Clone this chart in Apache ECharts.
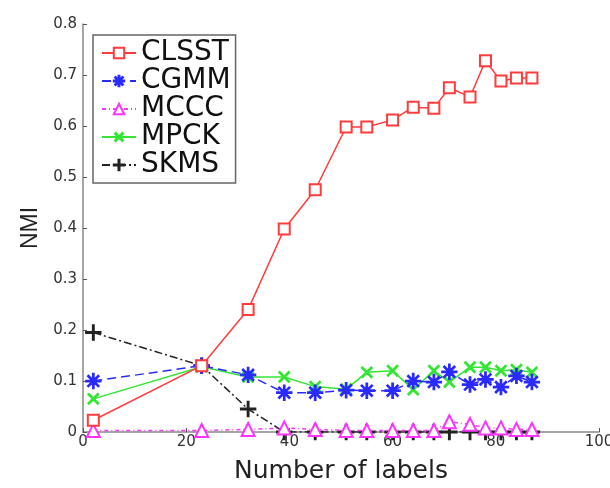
<!DOCTYPE html>
<html>
<head>
<meta charset="utf-8">
<script src="https://cdn.jsdelivr.net/npm/echarts@6/dist/echarts.min.js"></script>
<style>html,body{margin:0;padding:0;background:#fff}#c{width:610px;height:488px}</style>
</head>
<body>
<div id="c"></div>
<script>
const xValues = [2, 23, 32, 39, 45, 51, 55, 60, 64, 68, 71, 75, 78, 81, 84, 87];
const clsst = [0.023, 0.13, 0.24, 0.398, 0.475, 0.598, 0.598, 0.612, 0.637, 0.635, 0.675, 0.657, 0.728, 0.688, 0.694, 0.694];
const cgmm  = [0.100, 0.13, 0.112, 0.077, 0.077, 0.082, 0.081, 0.081, 0.100, 0.098, 0.118, 0.093, 0.103, 0.088, 0.110, 0.098];
const mccc  = [0.003, 0.003, 0.005, 0.008, 0.005, 0.003, 0.003, 0.003, 0.003, 0.003, 0.020, 0.015, 0.008, 0.008, 0.005, 0.005];
const mpck  = [0.065, 0.128, 0.108, 0.108, 0.089, 0.084, 0.117, 0.120, 0.083, 0.120, 0.098, 0.127, 0.127, 0.120, 0.122, 0.117];
const skms  = [0.195, 0.13, 0.045, 0, 0, 0, 0, 0, 0, 0, 0, 0, 0, 0, 0, 0];
const seriesNames = ['CLSST', 'CGMM', 'MCCC', 'MPCK', 'SKMS'];
const xTicks = {min: 0, max: 100, interval: 20};
const yTicks = {min: 0, max: 0.8, interval: 0.1};

const plusPath = 'path://M-1,-10 L1,-10 L1,-1 L10,-1 L10,1 L1,1 L1,10 L-1,10 L-1,1 L-10,1 L-10,-1 L-1,-1 Z';
const starPath = 'path://M-0.9,-10 L0.9,-10 L0.9,10 L-0.9,10 Z M-10,-0.9 L10,-0.9 L10,0.9 L-10,0.9 Z M-7.7,-6.5 L-6.5,-7.7 L7.7,6.5 L6.5,7.7 Z M6.5,-7.7 L7.7,-6.5 L-6.5,7.7 L-7.7,6.5 Z';

function zip(ys){ return xValues.map((x,i)=>[x, ys[i]]); }

const styles = [
  {data: clsst, color: '#ff3b3b', symbol: 'emptyRect', size: 11, type: 'solid', rot: 0},
  {data: cgmm,  color: '#2a2aff', symbol: starPath, size: 15, type: [9,5], rot: 0},
  {data: mccc,  color: '#ff33ff', symbol: 'emptyTriangle', size: 13, type: [4,3,1,3], rot: 0},
  {data: mpck,  color: '#33e633', symbol: plusPath, size: 14, type: 'solid', rot: 45},
  {data: skms,  color: '#222222', symbol: plusPath, size: 15, type: [8,3,2,3], rot: 0}
];

const FONT = 'DejaVu Sans';
const chart = echarts.init(document.getElementById('c'), null, {renderer: 'canvas'});
chart.setOption({
  animation: false,
  backgroundColor: '#fff',
  textStyle: {fontFamily: FONT},
  grid: {left: 83, right: 11, top: 24, bottom: 56, containLabel: false, outerBoundsMode: 'none'},
  legend: {
    orient: 'vertical', left: 93, top: 35,
    padding: [4, 5, 4, 8],
    borderColor: '#666', borderWidth: 1.5,
    itemWidth: 34, itemHeight: 13, itemGap: 0,
    textStyle: {fontSize: 28, color: '#111', fontFamily: FONT},
    data: seriesNames
  },
  xAxis: {
    type: 'value', min: xTicks.min, max: xTicks.max, interval: xTicks.interval,
    name: 'Number of labels', nameLocation: 'middle', nameGap: 27,
    nameTextStyle: {fontSize: 25, color: '#222', fontFamily: FONT},
    axisLine: {lineStyle: {color: '#888', width: 1.5}},
    axisTick: {inside: true, length: 4, lineStyle: {color: '#555'}},
    axisLabel: {fontSize: 15, color: '#333', margin: 3},
    splitLine: {show: false}
  },
  yAxis: {
    type: 'value', min: yTicks.min, max: yTicks.max, interval: yTicks.interval,
    name: 'NMI', nameLocation: 'middle', nameGap: 41, nameRotate: 90,
    nameTextStyle: {fontSize: 23, color: '#222', fontFamily: 'Liberation Sans', padding: [0, 0, 0, 0]},
    axisLine: {show: true, lineStyle: {color: '#888', width: 1.5}},
    axisTick: {show: true, inside: true, length: 4, lineStyle: {color: '#555'}},
    axisLabel: {fontSize: 15, color: '#333', margin: 6},
    splitLine: {show: false}
  },
  series: styles.map((s, i) => ({
    name: seriesNames[i],
    type: 'line',
    data: zip(s.data),
    symbol: s.symbol,
    symbolSize: s.size,
    symbolRotate: s.rot,
    showAllSymbol: true,
    z: 5 - i,
    color: s.color,
    lineStyle: {color: s.color, width: 1.5, type: s.type},
    itemStyle: {color: s.color, borderColor: s.color, borderWidth: 1.4}
  }))
});
</script>
</body>
</html>
